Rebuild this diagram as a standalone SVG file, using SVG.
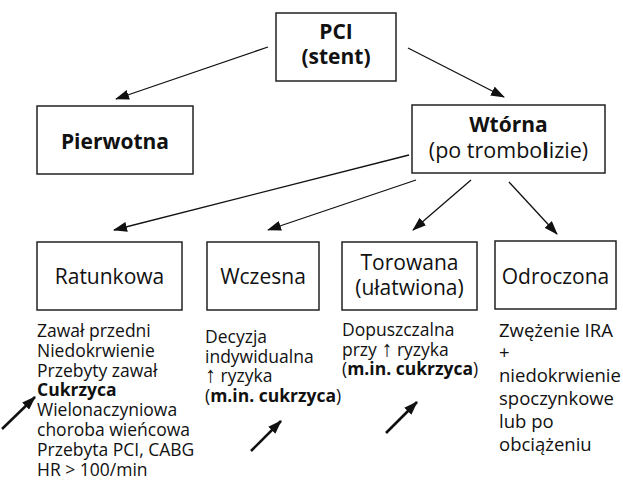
<svg xmlns="http://www.w3.org/2000/svg" width="623" height="498" viewBox="0 0 623 498">
<style>
  .box { fill: #fff; stroke: #222; stroke-width: 1.5; }
  .t { font-family: "Open Sans", "DejaVu Sans", sans-serif; fill: #111; }
  .h { font-size: 21px; text-anchor: middle; }
  .b { font-weight: bold; }
  .body { font-size: 17.5px; }
  .od { font-size: 18.5px; }
  .up { font-family: "Liberation Sans", "DejaVu Sans", sans-serif; font-weight: normal; font-size: 22px; }
  .con { stroke: #111; stroke-width: 1.3; fill: none; marker-end: url(#ah); }
  .big { stroke: #111; stroke-width: 2.6; fill: none; marker-end: url(#ah); }
</style>
<defs>
  <marker id="ah" markerUnits="userSpaceOnUse" markerWidth="14" markerHeight="10" refX="13" refY="5" orient="auto">
    <path d="M0,0 L14,5 L0,10 z" fill="#111"/>
  </marker>
</defs>
<rect width="623" height="498" fill="#fff"/>

<g id="connectors">
  <line class="con" x1="268" y1="47" x2="116" y2="99"/>
  <line class="con" x1="408" y1="48" x2="504" y2="97"/>
  <line class="con" x1="409" y1="155" x2="114" y2="230"/>
  <line class="con" x1="416" y1="180" x2="268" y2="230"/>
  <line class="con" x1="471" y1="180" x2="413" y2="230"/>
  <line class="con" x1="509" y1="182" x2="557" y2="234"/>
</g>

<g id="pci">
  <rect class="box" x="276" y="13" width="120" height="68"/>
  <text class="t h b" x="336" y="39">PCI</text>
  <text class="t h b" x="336" y="64">(stent)</text>
</g>

<g id="pierwotna">
  <rect class="box" x="37" y="106" width="156" height="68"/>
  <text class="t h b" x="115" y="149">Pierwotna</text>
</g>

<g id="wtorna">
  <rect class="box" x="412" y="105" width="193" height="68"/>
  <text class="t h b" x="508.5" y="132">Wtórna</text>
  <text class="t h" x="508.5" y="158" style="font-size:21.5px">(po trombo<tspan class="b">l</tspan>izie)</text>
</g>

<g id="ratunkowa">
  <rect class="box" x="37" y="242" width="145" height="68"/>
  <text class="t h" x="109.5" y="284">Ratunkowa</text>
  <text class="t body" x="37" y="337">Zawał przedni</text>
  <text class="t body" x="37" y="356.8">Niedokrwienie</text>
  <text class="t body" x="37" y="376.6">Przebyty zawał</text>
  <text class="t body b" x="37" y="396.4">Cukrzyca</text>
  <text class="t body" x="37" y="416.2">Wielonaczyniowa</text>
  <text class="t body" x="37" y="436">choroba wieńcowa</text>
  <text class="t body" x="37" y="455.8">Przebyta PCI, CABG</text>
  <text class="t body" x="37" y="475.6">HR &gt; 100/min</text>
</g>

<g id="wczesna">
  <rect class="box" x="207" y="242" width="112" height="68"/>
  <text class="t h" x="263" y="284">Wczesna</text>
  <text class="t body" x="205" y="343">Decyzja</text>
  <text class="t body" x="205" y="362.5">indywidualna</text>
  <text class="t body" x="205" y="382"><tspan class="up">↑</tspan> ryzyka</text>
  <text class="t body" x="205" y="401.5">(<tspan class="b">m.in. cukrzyca</tspan>)</text>
</g>

<g id="torowana">
  <rect class="box" x="342" y="242" width="135" height="68"/>
  <text class="t h" x="409.5" y="270">Torowana</text>
  <text class="t h" x="409.5" y="295">(ułatwiona)</text>
  <text class="t body" x="342" y="336">Dopuszczalna</text>
  <text class="t body" x="342" y="355.5">przy  <tspan class="up">↑</tspan> ryzyka</text>
  <text class="t body" x="342" y="375">(<tspan class="b">m.in. cukrzyca</tspan>)</text>
</g>

<g id="odroczona">
  <rect class="box" x="495" y="241" width="121" height="68"/>
  <text class="t h" x="555.5" y="284">Odroczona</text>
  <text class="t od" x="499" y="337">Zwężenie IRA</text>
  <text class="t od" x="499" y="359">+</text>
  <text class="t od" x="499" y="382">niedokrwienie</text>
  <text class="t od" x="499" y="405">spoczynkowe</text>
  <text class="t od" x="499" y="428">lub po</text>
  <text class="t od" x="499" y="451">obciążeniu</text>
</g>

<g id="markers">
  <line class="big" x1="2" y1="429" x2="35" y2="397"/>
  <line class="big" x1="251" y1="451" x2="281" y2="421"/>
  <line class="big" x1="386" y1="433" x2="417" y2="402"/>
</g>
</svg>
